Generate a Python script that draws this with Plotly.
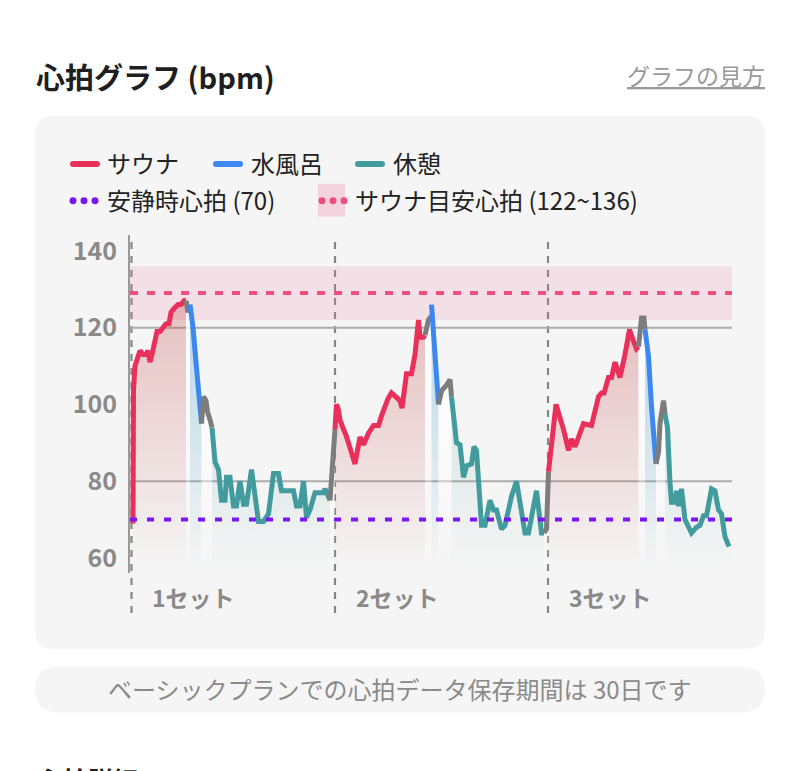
import plotly.graph_objects as go

FONT = "Noto Sans CJK JP"

# ---------------- data ----------------
Y_TICKS = [60, 80, 100, 120, 140]
GRID_LINES = [80, 120]
REST_HR = 70
TARGET_LOW, TARGET_HIGH, TARGET_MID = 122, 136, 129
SET_STARTS = [0.3, 41.0, 83.6]
SET_LABELS = ["1セット", "2セット", "3セット"]
X_MAX = 120.4

# set 1
sauna1_t = [0.6, 0.7, 1.0, 1.4, 2.0, 2.6, 3.2, 3.6, 4.0, 4.4, 4.8, 5.4, 6.0, 6.6, 7.2, 7.8, 8.2, 8.8, 9.6, 10.2, 10.8, 11.2]
sauna1_hr = [69, 104, 110, 112, 114, 113, 113, 114, 111, 113, 115, 119, 119, 120, 121, 121, 124, 125, 126, 126, 127, 127]
gap1a_t = [11.2, 11.6, 12.0]
gap1a_hr = [127, 124, 126]
bath1_t = [12.0, 12.6, 13.2, 13.8, 14.3]
bath1_hr = [126, 120, 111, 102, 95]
gap1b_t = [14.3, 14.7, 15.2, 15.5, 16.0, 16.4]
gap1b_hr = [95, 102, 101, 98, 96, 94]
rest1_t = [16.4, 17.0, 17.7, 18.3, 19.0, 19.3, 20.0, 20.7, 21.3, 22.0, 22.7, 23.3, 24.3, 24.7, 25.7, 26.7, 27.7,
           28.7, 29.7, 30.3, 32.7, 33.3, 34.0, 34.7, 35.3, 36.0, 37.0, 38.7, 39.0, 40.0]
rest1_hr = [94, 85, 83, 75, 75, 81, 81, 73.5, 73.5, 80, 74, 74, 83, 79, 69.5, 69.5, 71.5,
            82, 82, 77.5, 77.5, 73.5, 73.5, 80, 70.5, 72.5, 77, 77, 78, 75]
gap1c_t = [40.0, 41.0]
gap1c_hr = [75, 93.5]

# set 2
sauna2_t = [41.0, 41.3, 41.6, 42.0, 42.7, 43.2, 45.0, 46.0, 46.7, 47.7, 48.7, 49.7, 50.3, 51.0, 51.6, 52.3,
            53.0, 54.0, 54.4, 55.3, 56.3, 57.0, 57.7, 58.0, 58.7, 59.0]
sauna2_hr = [93.5, 100, 99, 96, 93.5, 92, 84.5, 91.5, 89.5, 92.5, 94.5, 94.5, 97, 100, 101.5, 103,
             102, 101, 99, 108, 108, 113, 122, 117.5, 117.5, 118]
gap2a_t = [59.0, 59.7, 60.3]
gap2a_hr = [118, 122, 123]
bath2_t = [60.3, 60.6, 61.2, 61.7]
bath2_hr = [126, 121, 110, 100]
gap2b_t = [61.7, 62.3, 63.3, 64.0, 64.3]
gap2b_hr = [100, 103.5, 105, 106.5, 102]
rest2_t = [64.3, 65.0, 65.3, 66.0, 66.7, 67.3, 68.3, 68.8, 69.3, 70.3, 71.0, 72.0, 72.7, 73.3, 74.3, 75.0,
           75.7, 76.3, 77.3, 78.0, 79.0, 79.7, 80.7, 81.3, 82.3, 82.8]
rest2_hr = [102, 92.5, 90, 89.5, 81, 84, 84.5, 89, 88, 68.5, 68.5, 75, 72.5, 72.5, 67.5, 68.5,
            72.5, 76, 80, 75, 66.5, 66.5, 74.5, 77.5, 66.5, 66.5]
gap2c_t = [82.8, 83.3, 83.7]
gap2c_hr = [66.5, 67.5, 82.5]

# set 3
sauna3_t = [83.7, 84.4, 85.2, 86.7, 87.7, 88.3, 89.0, 90.0, 90.7, 92.3, 93.3, 93.7, 94.3, 94.8, 95.7, 96.3,
            97.0, 98.0, 99.0, 99.9, 100.7, 101.3, 101.7]
sauna3_hr = [82.5, 92, 100, 93.5, 88, 91, 89, 92.5, 95, 94.5, 100, 102, 103, 103, 107, 107,
             111, 107, 113, 119.5, 116.5, 114.5, 115]
gap3a_t = [101.7, 102.3, 102.8, 103.0]
gap3a_hr = [115, 122.5, 122.5, 119.5]
bath3_t = [103.0, 103.7, 104.3, 104.7, 105.2]
bath3_hr = [119.5, 112.5, 99.5, 93.5, 84.5]
gap3b_t = [105.2, 105.7, 106.0, 106.7, 107.0]
gap3b_hr = [84.5, 87.5, 95, 101, 97.5]
rest3_t = [107.0, 107.5, 108.0, 108.3, 109.0, 109.3, 109.7, 110.3, 111.0, 112.3, 113.3, 114.0, 114.7,
           115.3, 116.3, 117.0, 117.7, 118.3, 119.0, 119.8]
rest3_hr = [97.5, 94, 79.5, 74.5, 74.5, 77.5, 73.5, 78, 70, 66.5, 68, 68.5, 71,
            71, 78, 77.5, 72.5, 71.5, 65.5, 63]

segments = [
    ("sauna", sauna1_t, sauna1_hr), ("gap", gap1a_t, gap1a_hr), ("bath", bath1_t, bath1_hr),
    ("gap", gap1b_t, gap1b_hr), ("rest", rest1_t, rest1_hr), ("gap", gap1c_t, gap1c_hr),
    ("sauna", sauna2_t, sauna2_hr), ("gap", gap2a_t, gap2a_hr), ("bath", bath2_t, bath2_hr),
    ("gap", gap2b_t, gap2b_hr), ("rest", rest2_t, rest2_hr), ("gap", gap2c_t, gap2c_hr),
    ("sauna", sauna3_t, sauna3_hr), ("gap", gap3a_t, gap3a_hr), ("bath", bath3_t, bath3_hr),
    ("gap", gap3b_t, gap3b_hr), ("rest", rest3_t, rest3_hr),
]

# ---------------- styles ----------------
LINE_COLORS = {"sauna": "#e8305a", "bath": "#3d87f0", "rest": "#429c9d", "gap": "#7d7d7d"}
FILL_TOP = {"sauna": "rgba(200,80,80,0.32)", "bath": "rgba(70,160,200,0.36)",
            "rest": "rgba(60,150,140,0.16)", "gap": "rgba(255,255,255,0.85)"}
FILL_BOTTOM = {"sauna": "rgba(200,80,80,0)", "bath": "rgba(70,160,200,0)",
               "rest": "rgba(60,150,140,0)", "gap": "rgba(255,255,255,0)"}

W, H = 800, 771
Y_RANGE = [56, 144]


def px(x):
    return x / W


def py(y):
    return 1 - y / H


fig = go.Figure()

# fills first
for kind, t, hr in segments:
    fig.add_trace(go.Scatter(
        x=t, y=hr, mode="lines", line=dict(width=0), fill="tozeroy",
        fillgradient=dict(type="vertical", start=57, stop=max(hr),
                          colorscale=[[0, FILL_BOTTOM[kind]], [1, FILL_TOP[kind]]]),
        hoverinfo="skip", showlegend=False))
# lines
for kind, t, hr in segments:
    fig.add_trace(go.Scatter(
        x=t, y=hr, mode="lines", line=dict(color=LINE_COLORS[kind], width=5),
        hoverinfo="skip", showlegend=False))

shapes = []


def rounded_rect(x0, y0, x1, y1, r, color):
    # pixel coordinates (top-left origin) -> paper path
    rx, ry = r / W, r / H
    X0, X1 = px(x0), px(x1)
    Y0, Y1 = py(y1), py(y0)  # bottom, top
    path = (f"M {X0+rx},{Y0} L {X1-rx},{Y0} Q {X1},{Y0} {X1},{Y0+ry} "
            f"L {X1},{Y1-ry} Q {X1},{Y1} {X1-rx},{Y1} L {X0+rx},{Y1} "
            f"Q {X0},{Y1} {X0},{Y1-ry} L {X0},{Y0+ry} Q {X0},{Y0} {X0+rx},{Y0} Z")
    return dict(type="path", xref="paper", yref="paper", path=path,
                fillcolor=color, line=dict(width=0), layer="below")


# card and footer pill
shapes.append(rounded_rect(35, 112, 765, 648, 18, "#f5f5f5"))
shapes.append(rounded_rect(35, 666, 765, 712, 23, "#f5f5f5"))

# target band
shapes.append(dict(type="rect", xref="x", yref="y", x0=0, x1=X_MAX, y0=TARGET_LOW, y1=TARGET_HIGH,
                   fillcolor="rgba(240,120,160,0.17)", line=dict(width=0), layer="below"))
# grid lines
for g in GRID_LINES:
    shapes.append(dict(type="line", xref="x", yref="y", x0=0, x1=X_MAX, y0=g, y1=g,
                       line=dict(color="#ababab", width=2), layer="below"))
# set dividers
for s in SET_STARTS:
    shapes.append(dict(type="line", xref="x", yref="paper", x0=s, x1=s, y0=py(612), y1=py(232),
                       line=dict(color="#868686", width=2.2, dash="7px,7px"), layer="below"))
# reference lines
shapes.append(dict(type="line", xref="x", yref="y", x0=0, x1=X_MAX, y0=TARGET_MID, y1=TARGET_MID,
                   line=dict(color="#ee4f7c", width=4, dash="8px,9px"), layer="below"))
shapes.append(dict(type="line", xref="x", yref="y", x0=0, x1=X_MAX, y0=REST_HR, y1=REST_HR,
                   line=dict(color="#7a16f2", width=4, dash="7px,10px"), layer="above"))

# legend icons
for (x0, x1, col) in [(70, 100, LINE_COLORS["sauna"]), (213, 243, LINE_COLORS["bath"]),
                      (355, 385, LINE_COLORS["rest"])]:
    shapes.append(rounded_rect(x0, 157, x1, 163, 3, col))
shapes.append(dict(type="rect", xref="paper", yref="paper", x0=px(318), x1=px(345), y0=py(213), y1=py(180),
                   fillcolor="rgba(240,150,180,0.35)", line=dict(width=0), layer="below"))
for cx0, col in [(73, "#7a16f2"), (322, "#ee4f7c")]:
    for k in range(3):
        cx = cx0 + k * 11
        shapes.append(dict(type="circle", xref="paper", yref="paper",
                           x0=px(cx - 3.5), x1=px(cx + 3.5), y0=py(200.5), y1=py(193.5),
                           fillcolor=col, line=dict(width=0)))

annotations = []


def txt(text, x, y, size, color, anchor="left", bold=False, xref="paper"):
    annotations.append(dict(text=text, x=px(x) if xref == "paper" else x, y=py(y), xref=xref, yref="paper",
                            xanchor=anchor, yanchor="middle", showarrow=False,
                            font=dict(family=FONT, size=size, color=color, weight=700 if bold else 400)))


txt("心拍グラフ (bpm)", 34, 71, 29, "#1e1e1e", bold=True)
txt("<u>グラフの見方</u>", 767, 70, 23, "#9a9a9a", anchor="right")
txt("サウナ", 105, 159, 24, "#222222")
txt("水風呂", 249, 159, 24, "#222222")
txt("休憩", 391, 159, 24, "#222222")
txt("安静時心拍 (70)", 105, 196, 24, "#222222")
txt("サウナ目安心拍 (122~136)", 353, 196, 24, "#222222")
for s, lab in zip(SET_STARTS, SET_LABELS):
    annotations.append(dict(text=lab, x=s + 3.7, y=py(596), xref="x", yref="paper", xanchor="left",
                            yanchor="middle", showarrow=False,
                            font=dict(family=FONT, size=23, color="#8a8a8a", weight=700)))
txt("ベーシックプランでの心拍データ保存期間は 30日です", 400, 688, 24, "#8a8a8a", anchor="center")
txt("心拍詳細", 36, 779, 25, "#1e1e1e", bold=True)

fig.update_layout(
    width=W, height=H, margin=dict(l=0, r=0, t=0, b=0),
    paper_bgcolor="white", plot_bgcolor="rgba(0,0,0,0)",
    shapes=shapes, annotations=annotations,
    xaxis=dict(domain=[px(130), px(732)], range=[0, X_MAX], visible=False, fixedrange=True),
    yaxis=dict(domain=[py(572), py(232)], range=Y_RANGE, tickvals=Y_TICKS, showgrid=False,
               zeroline=False, showline=True, linecolor="#999999", linewidth=2, ticks="",
               ticklabelstandoff=6,
               tickfont=dict(family=FONT, size=25, color="#8a8a8a", weight=700), fixedrange=True),
    showlegend=False,
)

fig.write_html("out.html")
